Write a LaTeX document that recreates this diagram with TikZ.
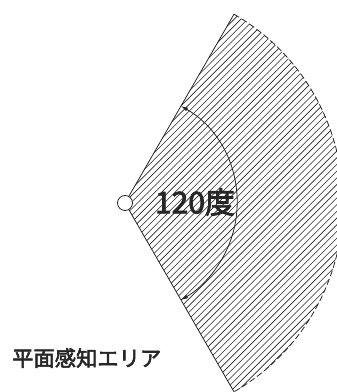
\documentclass[tikz,border=0pt]{standalone}
\usepackage{fontspec}
\setmainfont{Noto Sans CJK JP}
\newfontfamily\medfont{Noto Sans CJK JP}[RawFeature={embolden=2.5}]
\usetikzlibrary{arrows.meta}

\begin{document}
\begin{tikzpicture}[x=1pt, y=1pt,
    edge/.style={line width=0.8pt, black!85},
    hatch/.style={line width=0.6pt, black!85},
    angarrow/.style={line width=0.8pt, black!85, {Latex[length=7pt,width=4pt]}-{Latex[length=7pt,width=4pt]}}]
    \def\rad{218}
    \def\inner{112}
    \useasboundingbox (0,0) rectangle (337,392);

    % sensing area (hatched sector)
    \coordinate (apex) at (125,189);
    \begin{scope}
        \clip (apex) -- ++(60:\rad) arc (60:-60:\rad) -- cycle;
        \foreach \i in {-420,-413.3,...,340}
            \draw[hatch] (\i,0) -- ++(420,420);
    \end{scope}
    \draw[edge] (apex) -- ++(60:\rad);
    \draw[edge] (apex) -- ++(-60:\rad);
    \draw[edge, dash pattern=on 6pt off 3pt] (apex) ++(60:\rad) arc (60:-60:\rad);

    % angle
    \draw[angarrow] (apex) ++(60:\inner) arc (60:-60:\inner);
    \node[circle, draw, line width=0.8pt, black!85, fill=white, minimum size=15pt, inner sep=0pt] (sensor) at (apex) {};
    \node[font=\medfont\fontsize{30}{34}\selectfont, black!85] (angle) at (195,190) {120度};

    % label
    \node[anchor=west, font=\medfont\fontsize{21.3}{25}\selectfont, black!85, inner sep=0pt] (area) at (12,34) {平面感知エリア};
\end{tikzpicture}
\end{document}
